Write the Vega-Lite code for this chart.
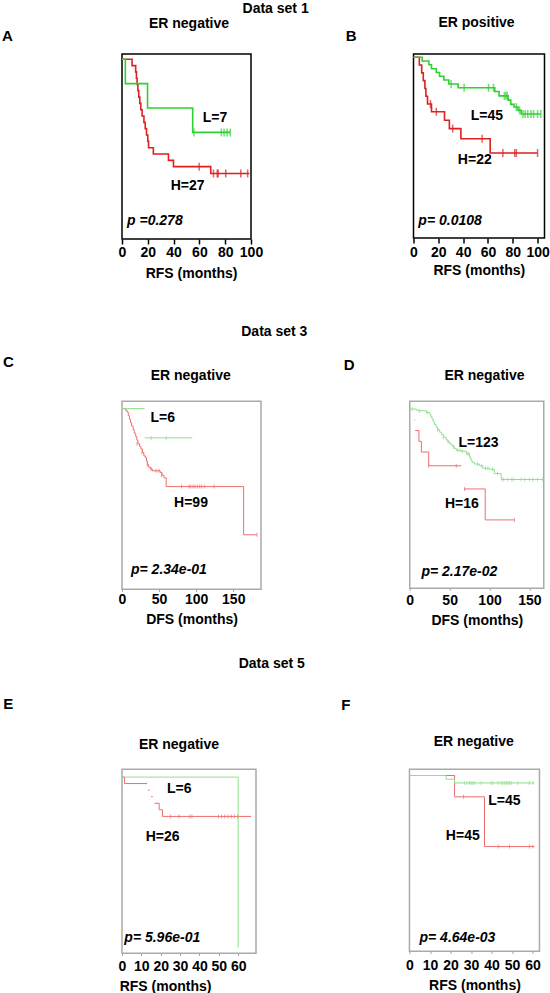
{
"$schema": "https://vega.github.io/schema/vega-lite/v6.json",
"background": "#ffffff",
"padding": {"left": 1, "top": 2, "right": 0, "bottom": 0},
"config": {
  "font": "Liberation Sans",
  "axis": {"labelFontSize": 14, "labelFontWeight": "bold", "labelColor": "#000", "titleFontSize": 14, "titleFontWeight": "bold", "titleColor": "#000", "grid": false},
  "title": {"fontSize": 14, "fontWeight": "bold", "color": "#000"}
},
"datasets": {
"curves": [
{"panel":"A","grp":"H","piece":1,"t":0,"p":1},{"panel":"A","grp":"H","piece":1,"t":7.8,"p":0.963},{"panel":"A","grp":"H","piece":1,"t":10.6,"p":0.926},{"panel":"A","grp":"H","piece":1,"t":11.2,"p":0.889},{"panel":"A","grp":"H","piece":1,"t":11.7,"p":0.852},{"panel":"A","grp":"H","piece":1,"t":12.3,"p":0.815},{"panel":"A","grp":"H","piece":1,"t":13.0,"p":0.778},{"panel":"A","grp":"H","piece":1,"t":13.8,"p":0.741},{"panel":"A","grp":"H","piece":1,"t":14.6,"p":0.704},{"panel":"A","grp":"H","piece":1,"t":15.6,"p":0.667},{"panel":"A","grp":"H","piece":1,"t":17.0,"p":0.63},{"panel":"A","grp":"H","piece":1,"t":18.0,"p":0.593},{"panel":"A","grp":"H","piece":1,"t":19.0,"p":0.556},{"panel":"A","grp":"H","piece":1,"t":20.0,"p":0.519},{"panel":"A","grp":"H","piece":1,"t":20.6,"p":0.481},{"panel":"A","grp":"H","piece":1,"t":24.3,"p":0.444},{"panel":"A","grp":"H","piece":1,"t":36.0,"p":0.407},{"panel":"A","grp":"H","piece":1,"t":39.9,"p":0.37},{"panel":"A","grp":"H","piece":1,"t":68.8,"p":0.33},{"panel":"A","grp":"H","piece":1,"t":98.7,"p":0.33},
{"panel":"A","grp":"L","piece":1,"t":0,"p":1},{"panel":"A","grp":"L","piece":1,"t":2.6,"p":0.857},{"panel":"A","grp":"L","piece":1,"t":19.8,"p":0.714},{"panel":"A","grp":"L","piece":1,"t":54.8,"p":0.571},{"panel":"A","grp":"L","piece":1,"t":84.1,"p":0.571},
{"panel":"B","grp":"H","piece":1,"t":0,"p":1},{"panel":"B","grp":"H","piece":1,"t":4.7,"p":0.955},{"panel":"B","grp":"H","piece":1,"t":6.6,"p":0.909},{"panel":"B","grp":"H","piece":1,"t":7.9,"p":0.864},{"panel":"B","grp":"H","piece":1,"t":9.2,"p":0.818},{"panel":"B","grp":"H","piece":1,"t":10.0,"p":0.773},{"panel":"B","grp":"H","piece":1,"t":11.3,"p":0.727},{"panel":"B","grp":"H","piece":1,"t":14.5,"p":0.682},{"panel":"B","grp":"H","piece":1,"t":25.0,"p":0.633},{"panel":"B","grp":"H","piece":1,"t":28.9,"p":0.584},{"panel":"B","grp":"H","piece":1,"t":38.2,"p":0.525},{"panel":"B","grp":"H","piece":1,"t":61.8,"p":0.442},{"panel":"B","grp":"H","piece":1,"t":100,"p":0.442},
{"panel":"B","grp":"L","piece":1,"t":0,"p":1},{"panel":"B","grp":"L","piece":1,"t":7.0,"p":0.978},{"panel":"B","grp":"L","piece":1,"t":12.4,"p":0.956},{"panel":"B","grp":"L","piece":1,"t":14.5,"p":0.933},{"panel":"B","grp":"L","piece":1,"t":18.4,"p":0.911},{"panel":"B","grp":"L","piece":1,"t":21.0,"p":0.889},{"panel":"B","grp":"L","piece":1,"t":24.5,"p":0.867},{"panel":"B","grp":"L","piece":1,"t":28.5,"p":0.844},{"panel":"B","grp":"L","piece":1,"t":36.0,"p":0.822},{"panel":"B","grp":"L","piece":1,"t":65.5,"p":0.8},{"panel":"B","grp":"L","piece":1,"t":69.0,"p":0.775},{"panel":"B","grp":"L","piece":1,"t":76.3,"p":0.75},{"panel":"B","grp":"L","piece":1,"t":78.4,"p":0.725},{"panel":"B","grp":"L","piece":1,"t":81.0,"p":0.71},{"panel":"B","grp":"L","piece":1,"t":84.2,"p":0.69},{"panel":"B","grp":"L","piece":1,"t":86.8,"p":0.669},{"panel":"B","grp":"L","piece":1,"t":102.6,"p":0.669},
{"panel":"C","grp":"H","piece":1,"t":0,"p":1},{"panel":"C","grp":"H","piece":1,"t":5,"p":0.99},{"panel":"C","grp":"H","piece":1,"t":7,"p":0.98},{"panel":"C","grp":"H","piece":1,"t":8.5,"p":0.96},{"panel":"C","grp":"H","piece":1,"t":10,"p":0.94},{"panel":"C","grp":"H","piece":1,"t":11.5,"p":0.92},{"panel":"C","grp":"H","piece":1,"t":13,"p":0.9},{"panel":"C","grp":"H","piece":1,"t":15,"p":0.88},{"panel":"C","grp":"H","piece":1,"t":16.5,"p":0.86},{"panel":"C","grp":"H","piece":1,"t":18.5,"p":0.84},{"panel":"C","grp":"H","piece":1,"t":20,"p":0.82},{"panel":"C","grp":"H","piece":1,"t":21.5,"p":0.8},{"panel":"C","grp":"H","piece":1,"t":23.5,"p":0.785},{"panel":"C","grp":"H","piece":1,"t":25.5,"p":0.77},{"panel":"C","grp":"H","piece":1,"t":27.5,"p":0.75},{"panel":"C","grp":"H","piece":1,"t":29.5,"p":0.73},{"panel":"C","grp":"H","piece":1,"t":31.5,"p":0.72},{"panel":"C","grp":"H","piece":1,"t":33,"p":0.7},{"panel":"C","grp":"H","piece":1,"t":34.5,"p":0.68},{"panel":"C","grp":"H","piece":1,"t":36,"p":0.665},{"panel":"C","grp":"H","piece":1,"t":38.5,"p":0.655},{"panel":"C","grp":"H","piece":1,"t":41,"p":0.645},{"panel":"C","grp":"H","piece":1,"t":51.5,"p":0.635},{"panel":"C","grp":"H","piece":1,"t":54,"p":0.62},{"panel":"C","grp":"H","piece":1,"t":56.5,"p":0.605},{"panel":"C","grp":"H","piece":1,"t":59.6,"p":0.555},{"panel":"C","grp":"H","piece":1,"t":164,"p":0.28},{"panel":"C","grp":"H","piece":1,"t":181.9,"p":0.28},
{"panel":"C","grp":"L","piece":1,"t":0,"p":1},{"panel":"C","grp":"L","piece":1,"t":30.6,"p":1},{"panel":"C","grp":"L","piece":2,"t":30.6,"p":0.833},{"panel":"C","grp":"L","piece":2,"t":94.8,"p":0.833},
{"panel":"D","grp":"H","piece":1,"t":5.8,"p":0.937},{"panel":"D","grp":"H","piece":1,"t":6.7,"p":0.937},{"panel":"D","grp":"H","piece":2,"t":6.7,"p":0.875},{"panel":"D","grp":"H","piece":2,"t":11.5,"p":0.8125},{"panel":"D","grp":"H","piece":2,"t":14.6,"p":0.75},{"panel":"D","grp":"H","piece":2,"t":23.75,"p":0.67},{"panel":"D","grp":"H","piece":2,"t":64.6,"p":0.67},{"panel":"D","grp":"H","piece":3,"t":67.9,"p":0.535},{"panel":"D","grp":"H","piece":3,"t":94.6,"p":0.355},{"panel":"D","grp":"H","piece":3,"t":131.25,"p":0.355},
{"panel":"D","grp":"L","piece":1,"t":0,"p":1},{"panel":"D","grp":"L","piece":1,"t":8,"p":0.995},{"panel":"D","grp":"L","piece":1,"t":10.4,"p":0.99},{"panel":"D","grp":"L","piece":1,"t":20.8,"p":0.98},{"panel":"D","grp":"L","piece":1,"t":25,"p":0.97},{"panel":"D","grp":"L","piece":1,"t":26.5,"p":0.955},{"panel":"D","grp":"L","piece":1,"t":28,"p":0.94},{"panel":"D","grp":"L","piece":1,"t":29.5,"p":0.925},{"panel":"D","grp":"L","piece":1,"t":31,"p":0.91},{"panel":"D","grp":"L","piece":1,"t":33,"p":0.895},{"panel":"D","grp":"L","piece":1,"t":35,"p":0.88},{"panel":"D","grp":"L","piece":1,"t":37.5,"p":0.865},{"panel":"D","grp":"L","piece":1,"t":40,"p":0.85},{"panel":"D","grp":"L","piece":1,"t":42.5,"p":0.835},{"panel":"D","grp":"L","piece":1,"t":45.8,"p":0.82},{"panel":"D","grp":"L","piece":1,"t":48,"p":0.81},{"panel":"D","grp":"L","piece":1,"t":50,"p":0.8},{"panel":"D","grp":"L","piece":1,"t":52,"p":0.79},{"panel":"D","grp":"L","piece":1,"t":54.2,"p":0.78},{"panel":"D","grp":"L","piece":1,"t":56,"p":0.77},{"panel":"D","grp":"L","piece":1,"t":58.3,"p":0.76},{"panel":"D","grp":"L","piece":1,"t":64.6,"p":0.755},{"panel":"D","grp":"L","piece":1,"t":70.8,"p":0.74},{"panel":"D","grp":"L","piece":1,"t":75,"p":0.72},{"panel":"D","grp":"L","piece":1,"t":76.5,"p":0.705},{"panel":"D","grp":"L","piece":1,"t":78,"p":0.69},{"panel":"D","grp":"L","piece":1,"t":81,"p":0.68},{"panel":"D","grp":"L","piece":1,"t":87.5,"p":0.67},{"panel":"D","grp":"L","piece":1,"t":91.7,"p":0.655},{"panel":"D","grp":"L","piece":1,"t":100,"p":0.65},{"panel":"D","grp":"L","piece":1,"t":106,"p":0.625},{"panel":"D","grp":"L","piece":1,"t":114.6,"p":0.59},{"panel":"D","grp":"L","piece":1,"t":167.9,"p":0.59},
{"panel":"E","grp":"H","piece":1,"t":0,"p":1},{"panel":"E","grp":"H","piece":1,"t":1.3,"p":0.962},{"panel":"E","grp":"H","piece":1,"t":13.0,"p":0.962},{"panel":"E","grp":"H","piece":2,"t":13.4,"p":0.923},{"panel":"E","grp":"H","piece":2,"t":14.2,"p":0.923},{"panel":"E","grp":"H","piece":3,"t":15.0,"p":0.885},{"panel":"E","grp":"H","piece":3,"t":15.9,"p":0.885},{"panel":"E","grp":"H","piece":4,"t":16.8,"p":0.846},{"panel":"E","grp":"H","piece":4,"t":19.2,"p":0.808},{"panel":"E","grp":"H","piece":4,"t":20.9,"p":0.769},{"panel":"E","grp":"H","piece":4,"t":66.7,"p":0.769},
{"panel":"E","grp":"L","piece":1,"t":0,"p":1},{"panel":"E","grp":"L","piece":1,"t":60,"p":0},
{"panel":"F","grp":"H","piece":1,"t":0,"p":1},{"panel":"F","grp":"H","piece":1,"t":22,"p":0.874},{"panel":"F","grp":"H","piece":1,"t":36.6,"p":0.58},{"panel":"F","grp":"H","piece":1,"t":61,"p":0.58},
{"panel":"F","grp":"L","piece":1,"t":0,"p":1},{"panel":"F","grp":"L","piece":1,"t":17.9,"p":0.978},{"panel":"F","grp":"L","piece":1,"t":22,"p":0.956},{"panel":"F","grp":"L","piece":1,"t":61,"p":0.956}
],
"censor": [
{"panel":"A","grp":"L","t":55.8,"p":0.571},{"panel":"A","grp":"L","t":77.0,"p":0.571},{"panel":"A","grp":"L","t":79.1,"p":0.571},{"panel":"A","grp":"L","t":81.5,"p":0.571},{"panel":"A","grp":"L","t":83.9,"p":0.571},
{"panel":"A","grp":"H","t":59.8,"p":0.37},{"panel":"A","grp":"H","t":70.9,"p":0.33},{"panel":"A","grp":"H","t":73.8,"p":0.33},{"panel":"A","grp":"H","t":74.6,"p":0.33},{"panel":"A","grp":"H","t":80.4,"p":0.33},{"panel":"A","grp":"H","t":92.1,"p":0.33},{"panel":"A","grp":"H","t":97.4,"p":0.33},
{"panel":"B","grp":"L","t":30.3,"p":0.844},{"panel":"B","grp":"L","t":40.8,"p":0.822},{"panel":"B","grp":"L","t":60.5,"p":0.822},{"panel":"B","grp":"L","t":64.5,"p":0.822},{"panel":"B","grp":"L","t":73.2,"p":0.775},{"panel":"B","grp":"L","t":74.5,"p":0.775},{"panel":"B","grp":"L","t":75.5,"p":0.775},{"panel":"B","grp":"L","t":82.9,"p":0.71},{"panel":"B","grp":"L","t":85.5,"p":0.69},{"panel":"B","grp":"L","t":88.2,"p":0.669},{"panel":"B","grp":"L","t":90,"p":0.669},{"panel":"B","grp":"L","t":92.1,"p":0.669},{"panel":"B","grp":"L","t":94.7,"p":0.669},{"panel":"B","grp":"L","t":96.8,"p":0.669},{"panel":"B","grp":"L","t":100,"p":0.669},{"panel":"B","grp":"L","t":102.6,"p":0.669},
{"panel":"B","grp":"H","t":13.7,"p":0.727},{"panel":"B","grp":"H","t":18.4,"p":0.682},{"panel":"B","grp":"H","t":31.6,"p":0.584},{"panel":"B","grp":"H","t":55.3,"p":0.525},{"panel":"B","grp":"H","t":72,"p":0.442},{"panel":"B","grp":"H","t":81.6,"p":0.442},{"panel":"B","grp":"H","t":82.9,"p":0.442},{"panel":"B","grp":"H","t":100,"p":0.442},
{"panel":"C","grp":"L","t":39.3,"p":0.833},{"panel":"C","grp":"L","t":59.6,"p":0.833},
{"panel":"C","grp":"H","t":20.3,"p":0.8},{"panel":"C","grp":"H","t":27,"p":0.75},{"panel":"C","grp":"H","t":33.9,"p":0.68},{"panel":"C","grp":"H","t":39.3,"p":0.655},{"panel":"C","grp":"H","t":46,"p":0.645},{"panel":"C","grp":"H","t":49.7,"p":0.645},{"panel":"C","grp":"H","t":53.3,"p":0.62},{"panel":"C","grp":"H","t":80.4,"p":0.555},{"panel":"C","grp":"H","t":90.3,"p":0.555},{"panel":"C","grp":"H","t":92.6,"p":0.555},{"panel":"C","grp":"H","t":95.7,"p":0.555},{"panel":"C","grp":"H","t":98.4,"p":0.555},{"panel":"C","grp":"H","t":101.6,"p":0.555},{"panel":"C","grp":"H","t":104.7,"p":0.555},{"panel":"C","grp":"H","t":107.4,"p":0.555},{"panel":"C","grp":"H","t":111.5,"p":0.555},{"panel":"C","grp":"H","t":124.2,"p":0.555},{"panel":"C","grp":"H","t":181.9,"p":0.28},
{"panel":"D","grp":"L","t":3,"p":1},{"panel":"D","grp":"L","t":12,"p":0.99},{"panel":"D","grp":"L","t":22,"p":0.98},{"panel":"D","grp":"L","t":35,"p":0.88},{"panel":"D","grp":"L","t":42,"p":0.835},{"panel":"D","grp":"L","t":48,"p":0.81},{"panel":"D","grp":"L","t":55,"p":0.78},{"panel":"D","grp":"L","t":60,"p":0.76},{"panel":"D","grp":"L","t":63,"p":0.76},{"panel":"D","grp":"L","t":66,"p":0.755},{"panel":"D","grp":"L","t":72,"p":0.74},{"panel":"D","grp":"L","t":74,"p":0.74},{"panel":"D","grp":"L","t":85,"p":0.68},{"panel":"D","grp":"L","t":90,"p":0.67},{"panel":"D","grp":"L","t":95,"p":0.655},{"panel":"D","grp":"L","t":98,"p":0.655},{"panel":"D","grp":"L","t":104,"p":0.65},{"panel":"D","grp":"L","t":110,"p":0.625},{"panel":"D","grp":"L","t":115.8,"p":0.59},{"panel":"D","grp":"L","t":117.9,"p":0.59},{"panel":"D","grp":"L","t":122.9,"p":0.59},{"panel":"D","grp":"L","t":127.9,"p":0.59},{"panel":"D","grp":"L","t":130.4,"p":0.59},{"panel":"D","grp":"L","t":139.6,"p":0.59},{"panel":"D","grp":"L","t":143.8,"p":0.59},{"panel":"D","grp":"L","t":150,"p":0.59},{"panel":"D","grp":"L","t":154.2,"p":0.59},{"panel":"D","grp":"L","t":160.4,"p":0.59},{"panel":"D","grp":"L","t":166.7,"p":0.59},
{"panel":"D","grp":"H","t":23.75,"p":0.67},{"panel":"D","grp":"H","t":58.3,"p":0.67},{"panel":"D","grp":"H","t":68.75,"p":0.535},{"panel":"D","grp":"H","t":131.25,"p":0.355},
{"panel":"E","grp":"H","t":25.1,"p":0.769},{"panel":"E","grp":"H","t":29.4,"p":0.769},{"panel":"E","grp":"H","t":35,"p":0.769},{"panel":"E","grp":"H","t":36.1,"p":0.769},{"panel":"E","grp":"H","t":49.8,"p":0.769},{"panel":"E","grp":"H","t":51.4,"p":0.769},{"panel":"E","grp":"H","t":53.1,"p":0.769},{"panel":"E","grp":"H","t":54.7,"p":0.769},{"panel":"E","grp":"H","t":56.4,"p":0.769},{"panel":"E","grp":"H","t":58,"p":0.769},{"panel":"E","grp":"H","t":59.8,"p":0.769},
{"panel":"F","grp":"L","t":26.8,"p":0.956},{"panel":"F","grp":"L","t":28.1,"p":0.956},{"panel":"F","grp":"L","t":29.3,"p":0.956},{"panel":"F","grp":"L","t":30.1,"p":0.956},{"panel":"F","grp":"L","t":30.9,"p":0.956},{"panel":"F","grp":"L","t":31.7,"p":0.956},{"panel":"F","grp":"L","t":34.9,"p":0.956},{"panel":"F","grp":"L","t":39.8,"p":0.956},{"panel":"F","grp":"L","t":40.7,"p":0.956},{"panel":"F","grp":"L","t":43.1,"p":0.956},{"panel":"F","grp":"L","t":44.7,"p":0.956},{"panel":"F","grp":"L","t":45.5,"p":0.956},{"panel":"F","grp":"L","t":46.3,"p":0.956},{"panel":"F","grp":"L","t":47.2,"p":0.956},{"panel":"F","grp":"L","t":48,"p":0.956},{"panel":"F","grp":"L","t":48.8,"p":0.956},{"panel":"F","grp":"L","t":49.6,"p":0.956},{"panel":"F","grp":"L","t":52.8,"p":0.956},{"panel":"F","grp":"L","t":58.5,"p":0.956},{"panel":"F","grp":"L","t":60.2,"p":0.956},
{"panel":"F","grp":"H","t":26.4,"p":0.874},{"panel":"F","grp":"H","t":43.3,"p":0.58},{"panel":"F","grp":"H","t":48.8,"p":0.58},{"panel":"F","grp":"H","t":58.5,"p":0.58},{"panel":"F","grp":"H","t":60.2,"p":0.58}
],
"labels": [
{"panel":"A","kind":"n","text":"L=7","t":72.1,"p":0.655},{"panel":"A","kind":"n","text":"H=27","t":50.9,"p":0.255},{"panel":"A","kind":"p","text":"p =0.278","t":3.9,"p":0.049},
{"panel":"B","kind":"n","text":"L=45","t":59.2,"p":0.656},{"panel":"B","kind":"n","text":"H=22","t":49.4,"p":0.403},{"panel":"B","kind":"p","text":"p= 0.0108","t":3.9,"p":0.043},
{"panel":"C","kind":"n","text":"L=6","t":54.9,"p":0.946},{"panel":"C","kind":"n","text":"H=99","t":93,"p":0.461},{"panel":"C","kind":"p","text":"p= 2.34e-01","t":12.1,"p":0.08},
{"panel":"D","kind":"n","text":"L=123","t":86.3,"p":0.802},{"panel":"D","kind":"n","text":"H=16","t":65.4,"p":0.446},{"panel":"D","kind":"p","text":"p= 2.17e-02","t":14.6,"p":0.05},
{"panel":"E","kind":"n","text":"L=6","t":29.6,"p":0.931},{"panel":"E","kind":"n","text":"H=26","t":21,"p":0.648},{"panel":"E","kind":"p","text":"p= 5.96e-01","t":1.2,"p":0.053},
{"panel":"F","kind":"n","text":"L=45","t":46.3,"p":0.848},{"panel":"F","kind":"n","text":"H=45","t":26,"p":0.645},{"panel":"F","kind":"p","text":"p= 4.64e-03","t":4.9,"p":0.04}
]
},
"concat": [
{
"title": {"text": "Data set 1", "anchor": "middle", "frame": "bounds", "offset": -2},
"concat": [
{
"width": 129, "height": 185,
"view": {"stroke": "#000", "strokeWidth": 1.5},
"title": {"text": "A", "anchor": "start", "frame": "group", "dx": -120, "offset": -28, "fontSize": 15},
"resolve": {"axis": {"x": "independent"}},
"layer": [
{"data": {"name": "curves"}, "transform": [{"filter": "datum.panel=='A' && datum.grp=='H'"}],
 "mark": {"type": "line", "interpolate": "step-after", "color": "#dd2020", "strokeWidth": 1.6},
 "encoding": {
  "x": {"field": "t", "type": "quantitative", "scale": {"domain": [0, 100], "nice": false, "zero": false},
        "axis": {"values": [0,20,40,60,80,100], "title": "RFS (months)", "domain": false, "tickColor": "#000", "tickWidth": 1.5, "tickSize": 5, "labelPadding": 1.5, "titlePadding": 6.5, "labelFlush": false, "labelOverlap": false, "titleX": 69}},
  "y": {"field": "p", "type": "quantitative", "scale": {"domain": [-0.0546, 1.031], "nice": false, "zero": false},
        "axis": {"values": [0,0.2,0.4,0.6,0.8,1], "format": ".1f", "title": "Probability", "domain": false, "tickColor": "#000", "tickWidth": 1.5, "tickSize": 5, "labelPadding": 2.3, "titlePadding": 13.8, "labelOverlap": false, "labelFlush": false, "titleY": 89.5}},
  "detail": {"field": "piece", "type": "nominal"}}},
{"data": {"name": "curves"}, "transform": [{"filter": "datum.panel=='A' && datum.grp=='L'"}],
 "mark": {"type": "line", "interpolate": "step-after", "color": "#30d030", "strokeWidth": 1.6},
 "encoding": {
  "x": {"field": "t", "type": "quantitative", "scale": {"domain": [0, 100], "nice": false, "zero": false}, "axis": null},
  "y": {"field": "p", "type": "quantitative", "scale": {"domain": [-0.0546, 1.031], "nice": false, "zero": false}, "axis": null},
  "detail": {"field": "piece", "type": "nominal"}}},
{"data": {"name": "censor"}, "transform": [{"filter": "datum.panel=='A' && datum.grp=='H'"}],
 "mark": {"type": "tick", "orient": "vertical", "size": 8, "thickness": 1.5, "color": "#dd2020"},
 "encoding": {
  "x": {"field": "t", "type": "quantitative", "scale": {"domain": [0, 100], "nice": false, "zero": false}, "axis": null},
  "y": {"field": "p", "type": "quantitative", "scale": {"domain": [-0.0546, 1.031], "nice": false, "zero": false}, "axis": null}}},
{"data": {"name": "censor"}, "transform": [{"filter": "datum.panel=='A' && datum.grp=='L'"}],
 "mark": {"type": "tick", "orient": "vertical", "size": 8, "thickness": 1.5, "color": "#30d030"},
 "encoding": {
  "x": {"field": "t", "type": "quantitative", "scale": {"domain": [0, 100], "nice": false, "zero": false}, "axis": null},
  "y": {"field": "p", "type": "quantitative", "scale": {"domain": [-0.0546, 1.031], "nice": false, "zero": false}, "axis": null}}},
{"data": {"name": "labels"}, "transform": [{"filter": "datum.panel=='A' && datum.kind=='n'"}],
 "mark": {"type": "text", "fontSize": 14, "fontWeight": "bold", "color": "#000"},
 "encoding": {
  "x": {"field": "t", "type": "quantitative", "scale": {"domain": [0, 100], "nice": false, "zero": false},
        "axis": {"orient": "top", "title": "ER negative", "labels": false, "ticks": false, "domain": false, "grid": false, "titlePadding": 24, "titleX": 66.5}},
  "y": {"field": "p", "type": "quantitative", "scale": {"domain": [-0.0546, 1.031], "nice": false, "zero": false}, "axis": null},
  "text": {"field": "text", "type": "nominal"}}},
{"data": {"name": "labels"}, "transform": [{"filter": "datum.panel=='A' && datum.kind=='p'"}],
 "mark": {"type": "text", "fontSize": 14, "fontWeight": "bold", "fontStyle": "italic", "align": "left", "color": "#000"},
 "encoding": {
  "x": {"field": "t", "type": "quantitative", "scale": {"domain": [0, 100], "nice": false, "zero": false}, "axis": null},
  "y": {"field": "p", "type": "quantitative", "scale": {"domain": [-0.0546, 1.031], "nice": false, "zero": false}, "axis": null},
  "text": {"field": "text", "type": "nominal"}}}
]
},
{
"width": 131, "height": 184,
"view": {"stroke": "#000", "strokeWidth": 1.5},
"title": {"text": "B", "anchor": "start", "frame": "group", "dx": -67.7, "offset": -29, "fontSize": 15},
"resolve": {"axis": {"x": "independent"}},
"layer": [
{"data": {"name": "curves"}, "transform": [{"filter": "datum.panel=='B' && datum.grp=='H'"}],
 "mark": {"type": "line", "interpolate": "step-after", "color": "#dd2020", "strokeWidth": 1.6},
 "encoding": {
  "x": {"field": "t", "type": "quantitative", "scale": {"domain": [0, 105.6], "nice": false, "zero": false},
        "axis": {"values": [0,20,40,60,80,100], "title": "RFS (months)", "domain": false, "tickColor": "#000", "tickWidth": 1.5, "tickSize": 5, "labelPadding": 2.5, "titlePadding": 3.5, "labelFlush": false, "labelOverlap": false, "titleX": 65.3}},
  "y": {"field": "p", "type": "quantitative", "scale": {"domain": [-0.054, 1.019], "nice": false, "zero": false},
        "axis": {"values": [0,0.2,0.4,0.6,0.8,1], "format": ".1f", "title": "Probability", "domain": false, "tickColor": "#000", "tickWidth": 1.5, "tickSize": 5, "labelPadding": 3.4, "titlePadding": 15.8, "labelOverlap": false, "labelFlush": false, "titleY": 88.7}},
  "detail": {"field": "piece", "type": "nominal"}}},
{"data": {"name": "curves"}, "transform": [{"filter": "datum.panel=='B' && datum.grp=='L'"}],
 "mark": {"type": "line", "interpolate": "step-after", "color": "#30d030", "strokeWidth": 1.6},
 "encoding": {
  "x": {"field": "t", "type": "quantitative", "scale": {"domain": [0, 105.6], "nice": false, "zero": false}, "axis": null},
  "y": {"field": "p", "type": "quantitative", "scale": {"domain": [-0.054, 1.019], "nice": false, "zero": false}, "axis": null},
  "detail": {"field": "piece", "type": "nominal"}}},
{"data": {"name": "censor"}, "transform": [{"filter": "datum.panel=='B' && datum.grp=='H'"}],
 "mark": {"type": "tick", "orient": "vertical", "size": 8, "thickness": 1.5, "color": "#dd2020"},
 "encoding": {
  "x": {"field": "t", "type": "quantitative", "scale": {"domain": [0, 105.6], "nice": false, "zero": false}, "axis": null},
  "y": {"field": "p", "type": "quantitative", "scale": {"domain": [-0.054, 1.019], "nice": false, "zero": false}, "axis": null}}},
{"data": {"name": "censor"}, "transform": [{"filter": "datum.panel=='B' && datum.grp=='L'"}],
 "mark": {"type": "tick", "orient": "vertical", "size": 8, "thickness": 1.5, "color": "#30d030"},
 "encoding": {
  "x": {"field": "t", "type": "quantitative", "scale": {"domain": [0, 105.6], "nice": false, "zero": false}, "axis": null},
  "y": {"field": "p", "type": "quantitative", "scale": {"domain": [-0.054, 1.019], "nice": false, "zero": false}, "axis": null}}},
{"data": {"name": "labels"}, "transform": [{"filter": "datum.panel=='B' && datum.kind=='n'"}],
 "mark": {"type": "text", "fontSize": 14, "fontWeight": "bold", "color": "#000"},
 "encoding": {
  "x": {"field": "t", "type": "quantitative", "scale": {"domain": [0, 105.6], "nice": false, "zero": false},
        "axis": {"orient": "top", "title": "ER positive", "labels": false, "ticks": false, "domain": false, "grid": false, "titlePadding": 25, "titleX": 62.5}},
  "y": {"field": "p", "type": "quantitative", "scale": {"domain": [-0.054, 1.019], "nice": false, "zero": false}, "axis": null},
  "text": {"field": "text", "type": "nominal"}}},
{"data": {"name": "labels"}, "transform": [{"filter": "datum.panel=='B' && datum.kind=='p'"}],
 "mark": {"type": "text", "fontSize": 14, "fontWeight": "bold", "fontStyle": "italic", "align": "left", "color": "#000"},
 "encoding": {
  "x": {"field": "t", "type": "quantitative", "scale": {"domain": [0, 105.6], "nice": false, "zero": false}, "axis": null},
  "y": {"field": "p", "type": "quantitative", "scale": {"domain": [-0.054, 1.019], "nice": false, "zero": false}, "axis": null},
  "text": {"field": "text", "type": "nominal"}}}
]
}
],
"columns": 2, "spacing": 80.5, "align": "none", "bounds": "full"
},
{
"concat": [
{
"title": {"text": "Data set 3", "anchor": "middle", "frame": "bounds", "offset": 15.9},
"concat": [
{
"width": 139, "height": 188,
"view": {"stroke": "#aaaaaa", "strokeWidth": 1.5},
"title": {"text": "C", "anchor": "start", "frame": "group", "dx": -119, "offset": -2, "fontSize": 15},
"resolve": {"axis": {"x": "independent"}},
"layer": [
{"data": {"name": "curves"}, "transform": [{"filter": "datum.panel=='C' && datum.grp=='H'"}],
 "mark": {"type": "line", "interpolate": "step-after", "color": "#ee6e6e", "strokeWidth": 1},
 "encoding": {
  "x": {"field": "t", "type": "quantitative", "scale": {"domain": [0, 187.4], "nice": false, "zero": false},
        "axis": {"values": [0,50,100,150], "title": "DFS (months)", "domain": false, "tickColor": "#999", "tickWidth": 1, "tickSize": 2, "labelPadding": 1.2, "titlePadding": 6.4, "labelFlush": false, "labelOverlap": false}},
  "y": {"field": "p", "type": "quantitative", "scale": {"domain": [-0.031, 1.0417], "nice": false, "zero": false},
        "axis": {"values": [0,0.2,0.4,0.6,0.8,1], "format": ".1f", "title": "Probability", "domain": false, "tickColor": "#999", "tickWidth": 1, "tickSize": 2, "labelPadding": 3.7, "titlePadding": 12.2, "labelOverlap": false, "labelFlush": false, "titleY": 88.7}},
  "detail": {"field": "piece", "type": "nominal"}}},
{"data": {"name": "curves"}, "transform": [{"filter": "datum.panel=='C' && datum.grp=='L'"}],
 "mark": {"type": "line", "interpolate": "step-after", "color": "#8ee08e", "strokeWidth": 1},
 "encoding": {
  "x": {"field": "t", "type": "quantitative", "scale": {"domain": [0, 187.4], "nice": false, "zero": false}, "axis": null},
  "y": {"field": "p", "type": "quantitative", "scale": {"domain": [-0.031, 1.0417], "nice": false, "zero": false}, "axis": null},
  "detail": {"field": "piece", "type": "nominal"}}},
{"data": {"name": "censor"}, "transform": [{"filter": "datum.panel=='C' && datum.grp=='H'"}],
 "mark": {"type": "tick", "orient": "vertical", "size": 4, "thickness": 1, "color": "#ee6e6e"},
 "encoding": {
  "x": {"field": "t", "type": "quantitative", "scale": {"domain": [0, 187.4], "nice": false, "zero": false}, "axis": null},
  "y": {"field": "p", "type": "quantitative", "scale": {"domain": [-0.031, 1.0417], "nice": false, "zero": false}, "axis": null}}},
{"data": {"name": "censor"}, "transform": [{"filter": "datum.panel=='C' && datum.grp=='L'"}],
 "mark": {"type": "tick", "orient": "vertical", "size": 4, "thickness": 1, "color": "#8ee08e"},
 "encoding": {
  "x": {"field": "t", "type": "quantitative", "scale": {"domain": [0, 187.4], "nice": false, "zero": false}, "axis": null},
  "y": {"field": "p", "type": "quantitative", "scale": {"domain": [-0.031, 1.0417], "nice": false, "zero": false}, "axis": null}}},
{"data": {"name": "labels"}, "transform": [{"filter": "datum.panel=='C' && datum.kind=='n'"}],
 "mark": {"type": "text", "fontSize": 14, "fontWeight": "bold", "color": "#000"},
 "encoding": {
  "x": {"field": "t", "type": "quantitative", "scale": {"domain": [0, 187.4], "nice": false, "zero": false},
        "axis": {"orient": "top", "title": "ER negative", "labels": false, "ticks": false, "domain": false, "grid": false, "titlePadding": 19, "titleX": 68.2}},
  "y": {"field": "p", "type": "quantitative", "scale": {"domain": [-0.031, 1.0417], "nice": false, "zero": false}, "axis": null},
  "text": {"field": "text", "type": "nominal"}}},
{"data": {"name": "labels"}, "transform": [{"filter": "datum.panel=='C' && datum.kind=='p'"}],
 "mark": {"type": "text", "fontSize": 14, "fontWeight": "bold", "fontStyle": "italic", "align": "left", "color": "#000"},
 "encoding": {
  "x": {"field": "t", "type": "quantitative", "scale": {"domain": [0, 187.4], "nice": false, "zero": false}, "axis": null},
  "y": {"field": "p", "type": "quantitative", "scale": {"domain": [-0.031, 1.0417], "nice": false, "zero": false}, "axis": null},
  "text": {"field": "text", "type": "nominal"}}}
]
},
{
"width": 134, "height": 187,
"view": {"stroke": "#aaaaaa", "strokeWidth": 1.5},
"title": {"text": "D", "anchor": "start", "frame": "group", "dx": -66, "offset": -4.3, "fontSize": 15},
"resolve": {"axis": {"x": "independent"}},
"layer": [
{"data": {"name": "curves"}, "transform": [{"filter": "datum.panel=='D' && datum.grp=='H'"}],
 "mark": {"type": "line", "interpolate": "step-after", "color": "#ee6e6e", "strokeWidth": 1},
 "encoding": {
  "x": {"field": "t", "type": "quantitative", "scale": {"domain": [0, 168], "nice": false, "zero": false},
        "axis": {"values": [0,50,100,150], "title": "DFS (months)", "domain": false, "tickColor": "#999", "tickWidth": 1, "tickSize": 2, "labelPadding": 3, "titlePadding": 6.4, "labelFlush": false, "labelOverlap": false}},
  "y": {"field": "p", "type": "quantitative", "scale": {"domain": [-0.043, 1.045], "nice": false, "zero": false},
        "axis": {"values": [0,0.2,0.4,0.6,0.8,1], "format": ".1f", "title": "Probability", "domain": false, "tickColor": "#999", "tickWidth": 1, "tickSize": 2, "labelPadding": 3, "titlePadding": 12.8, "labelOverlap": false, "labelFlush": false, "titleY": 90}},
  "detail": {"field": "piece", "type": "nominal"}}},
{"data": {"name": "curves"}, "transform": [{"filter": "datum.panel=='D' && datum.grp=='L'"}],
 "mark": {"type": "line", "interpolate": "step-after", "color": "#8ee08e", "strokeWidth": 1},
 "encoding": {
  "x": {"field": "t", "type": "quantitative", "scale": {"domain": [0, 168], "nice": false, "zero": false}, "axis": null},
  "y": {"field": "p", "type": "quantitative", "scale": {"domain": [-0.043, 1.045], "nice": false, "zero": false}, "axis": null},
  "detail": {"field": "piece", "type": "nominal"}}},
{"data": {"name": "censor"}, "transform": [{"filter": "datum.panel=='D' && datum.grp=='H'"}],
 "mark": {"type": "tick", "orient": "vertical", "size": 4, "thickness": 1, "color": "#ee6e6e"},
 "encoding": {
  "x": {"field": "t", "type": "quantitative", "scale": {"domain": [0, 168], "nice": false, "zero": false}, "axis": null},
  "y": {"field": "p", "type": "quantitative", "scale": {"domain": [-0.043, 1.045], "nice": false, "zero": false}, "axis": null}}},
{"data": {"name": "censor"}, "transform": [{"filter": "datum.panel=='D' && datum.grp=='L'"}],
 "mark": {"type": "tick", "orient": "vertical", "size": 4, "thickness": 1, "color": "#8ee08e"},
 "encoding": {
  "x": {"field": "t", "type": "quantitative", "scale": {"domain": [0, 168], "nice": false, "zero": false}, "axis": null},
  "y": {"field": "p", "type": "quantitative", "scale": {"domain": [-0.043, 1.045], "nice": false, "zero": false}, "axis": null}}},
{"data": {"name": "labels"}, "transform": [{"filter": "datum.panel=='D' && datum.kind=='n'"}],
 "mark": {"type": "text", "fontSize": 14, "fontWeight": "bold", "color": "#000"},
 "encoding": {
  "x": {"field": "t", "type": "quantitative", "scale": {"domain": [0, 168], "nice": false, "zero": false},
        "axis": {"orient": "top", "title": "ER negative", "labels": false, "ticks": false, "domain": false, "grid": false, "titlePadding": 19, "titleX": 74.2}},
  "y": {"field": "p", "type": "quantitative", "scale": {"domain": [-0.043, 1.045], "nice": false, "zero": false}, "axis": null},
  "text": {"field": "text", "type": "nominal"}}},
{"data": {"name": "labels"}, "transform": [{"filter": "datum.panel=='D' && datum.kind=='p'"}],
 "mark": {"type": "text", "fontSize": 14, "fontWeight": "bold", "fontStyle": "italic", "align": "left", "color": "#000"},
 "encoding": {
  "x": {"field": "t", "type": "quantitative", "scale": {"domain": [0, 168], "nice": false, "zero": false}, "axis": null},
  "y": {"field": "p", "type": "quantitative", "scale": {"domain": [-0.043, 1.045], "nice": false, "zero": false}, "axis": null},
  "text": {"field": "text", "type": "nominal"}}}
]
}
],
"columns": 2, "spacing": 80.75, "align": "none", "bounds": "full"
},
{
"title": {"text": "Data set 5", "anchor": "middle", "frame": "bounds", "offset": 25.5},
"concat": [
{
"width": 134, "height": 184,
"view": {"stroke": "#aaaaaa", "strokeWidth": 1.5},
"title": {"text": "E", "anchor": "start", "frame": "group", "dx": -118.7, "offset": 25.5, "fontSize": 15},
"resolve": {"axis": {"x": "independent"}},
"layer": [
{"data": {"name": "curves"}, "transform": [{"filter": "datum.panel=='E' && datum.grp=='H'"}],
 "mark": {"type": "line", "interpolate": "step-after", "color": "#ee6e6e", "strokeWidth": 1},
 "encoding": {
  "x": {"field": "t", "type": "quantitative", "scale": {"domain": [0, 69.2], "nice": false, "zero": false},
        "axis": {"values": [0,10,20,30,40,50,60], "title": "RFS (months)", "domain": false, "tickColor": "#999", "tickWidth": 1, "tickSize": 2, "labelPadding": 4, "titlePadding": 5.7, "labelFlush": false, "labelOverlap": false, "titleX": 43}},
  "y": {"field": "p", "type": "quantitative", "scale": {"domain": [-0.035, 1.0457], "nice": false, "zero": false},
        "axis": {"values": [0,0.2,0.4,0.6,0.8,1], "format": ".1f", "title": "Probability", "domain": false, "tickColor": "#999", "tickWidth": 1, "tickSize": 2, "labelPadding": 1.5, "titlePadding": 15.2, "labelOverlap": false, "labelFlush": false, "titleY": 89}},
  "detail": {"field": "piece", "type": "nominal"}}},
{"data": {"name": "curves"}, "transform": [{"filter": "datum.panel=='E' && datum.grp=='L'"}],
 "mark": {"type": "line", "interpolate": "step-after", "color": "#8ee08e", "strokeWidth": 1},
 "encoding": {
  "x": {"field": "t", "type": "quantitative", "scale": {"domain": [0, 69.2], "nice": false, "zero": false}, "axis": null},
  "y": {"field": "p", "type": "quantitative", "scale": {"domain": [-0.035, 1.0457], "nice": false, "zero": false}, "axis": null},
  "detail": {"field": "piece", "type": "nominal"}}},
{"data": {"name": "censor"}, "transform": [{"filter": "datum.panel=='E' && datum.grp=='H'"}],
 "mark": {"type": "tick", "orient": "vertical", "size": 4, "thickness": 1, "color": "#ee6e6e"},
 "encoding": {
  "x": {"field": "t", "type": "quantitative", "scale": {"domain": [0, 69.2], "nice": false, "zero": false}, "axis": null},
  "y": {"field": "p", "type": "quantitative", "scale": {"domain": [-0.035, 1.0457], "nice": false, "zero": false}, "axis": null}}},
{"data": {"name": "labels"}, "transform": [{"filter": "datum.panel=='E' && datum.kind=='n'"}],
 "mark": {"type": "text", "fontSize": 14, "fontWeight": "bold", "color": "#000"},
 "encoding": {
  "x": {"field": "t", "type": "quantitative", "scale": {"domain": [0, 69.2], "nice": false, "zero": false},
        "axis": {"orient": "top", "title": "ER negative", "labels": false, "ticks": false, "domain": false, "grid": false, "titlePadding": 17.8, "titleX": 56.5}},
  "y": {"field": "p", "type": "quantitative", "scale": {"domain": [-0.035, 1.0457], "nice": false, "zero": false}, "axis": null},
  "text": {"field": "text", "type": "nominal"}}},
{"data": {"name": "labels"}, "transform": [{"filter": "datum.panel=='E' && datum.kind=='p'"}],
 "mark": {"type": "text", "fontSize": 14, "fontWeight": "bold", "fontStyle": "italic", "align": "left", "color": "#000"},
 "encoding": {
  "x": {"field": "t", "type": "quantitative", "scale": {"domain": [0, 69.2], "nice": false, "zero": false}, "axis": null},
  "y": {"field": "p", "type": "quantitative", "scale": {"domain": [-0.035, 1.0457], "nice": false, "zero": false}, "axis": null},
  "text": {"field": "text", "type": "nominal"}}}
]
},
{
"width": 130, "height": 182,
"view": {"stroke": "#aaaaaa", "strokeWidth": 1.5},
"title": {"text": "F", "anchor": "start", "frame": "group", "dx": -68.3, "offset": 21.8, "fontSize": 15},
"resolve": {"axis": {"x": "independent"}},
"layer": [
{"data": {"name": "curves"}, "transform": [{"filter": "datum.panel=='F' && datum.grp=='H'"}],
 "mark": {"type": "line", "interpolate": "step-after", "color": "#ee6e6e", "strokeWidth": 1},
 "encoding": {
  "x": {"field": "t", "type": "quantitative", "scale": {"domain": [0, 63.4], "nice": false, "zero": false},
        "axis": {"values": [0,10,20,30,40,50,60], "title": "RFS (months)", "domain": false, "tickColor": "#999", "tickWidth": 1, "tickSize": 2, "labelPadding": 5, "titlePadding": 6.2, "labelFlush": false, "labelOverlap": false}},
  "y": {"field": "p", "type": "quantitative", "scale": {"domain": [-0.039, 1.0367], "nice": false, "zero": false},
        "axis": {"values": [0,0.2,0.4,0.6,0.8,1], "format": ".1f", "title": "Probability", "domain": false, "tickColor": "#999", "tickWidth": 1, "tickSize": 2, "labelPadding": 1.3, "titlePadding": 11.3, "labelOverlap": false, "labelFlush": false, "titleY": 86}},
  "detail": {"field": "piece", "type": "nominal"}}},
{"data": {"name": "curves"}, "transform": [{"filter": "datum.panel=='F' && datum.grp=='L'"}],
 "mark": {"type": "line", "interpolate": "step-after", "color": "#8ee08e", "strokeWidth": 1},
 "encoding": {
  "x": {"field": "t", "type": "quantitative", "scale": {"domain": [0, 63.4], "nice": false, "zero": false}, "axis": null},
  "y": {"field": "p", "type": "quantitative", "scale": {"domain": [-0.039, 1.0367], "nice": false, "zero": false}, "axis": null},
  "detail": {"field": "piece", "type": "nominal"}}},
{"data": {"name": "censor"}, "transform": [{"filter": "datum.panel=='F' && datum.grp=='H'"}],
 "mark": {"type": "tick", "orient": "vertical", "size": 4, "thickness": 1, "color": "#ee6e6e"},
 "encoding": {
  "x": {"field": "t", "type": "quantitative", "scale": {"domain": [0, 63.4], "nice": false, "zero": false}, "axis": null},
  "y": {"field": "p", "type": "quantitative", "scale": {"domain": [-0.039, 1.0367], "nice": false, "zero": false}, "axis": null}}},
{"data": {"name": "censor"}, "transform": [{"filter": "datum.panel=='F' && datum.grp=='L'"}],
 "mark": {"type": "tick", "orient": "vertical", "size": 4, "thickness": 1, "color": "#8ee08e"},
 "encoding": {
  "x": {"field": "t", "type": "quantitative", "scale": {"domain": [0, 63.4], "nice": false, "zero": false}, "axis": null},
  "y": {"field": "p", "type": "quantitative", "scale": {"domain": [-0.039, 1.0367], "nice": false, "zero": false}, "axis": null}}},
{"data": {"name": "labels"}, "transform": [{"filter": "datum.panel=='F' && datum.kind=='n'"}],
 "mark": {"type": "text", "fontSize": 14, "fontWeight": "bold", "color": "#000"},
 "encoding": {
  "x": {"field": "t", "type": "quantitative", "scale": {"domain": [0, 63.4], "nice": false, "zero": false},
        "axis": {"orient": "top", "title": "ER negative", "labels": false, "ticks": false, "domain": false, "grid": false, "titlePadding": 20.5, "titleX": 63.8}},
  "y": {"field": "p", "type": "quantitative", "scale": {"domain": [-0.039, 1.0367], "nice": false, "zero": false}, "axis": null},
  "text": {"field": "text", "type": "nominal"}}},
{"data": {"name": "labels"}, "transform": [{"filter": "datum.panel=='F' && datum.kind=='p'"}],
 "mark": {"type": "text", "fontSize": 14, "fontWeight": "bold", "fontStyle": "italic", "align": "left", "color": "#000"},
 "encoding": {
  "x": {"field": "t", "type": "quantitative", "scale": {"domain": [0, 63.4], "nice": false, "zero": false}, "axis": null},
  "y": {"field": "p", "type": "quantitative", "scale": {"domain": [-0.039, 1.0367], "nice": false, "zero": false}, "axis": null},
  "text": {"field": "text", "type": "nominal"}}}
]
}
],
"columns": 2, "spacing": 82.45, "align": "none", "bounds": "full"
}
],
"columns": 1, "spacing": 27, "align": "none", "bounds": "full"
}
],
"columns": 1, "spacing": 43.3, "align": "none", "bounds": "full"
}
